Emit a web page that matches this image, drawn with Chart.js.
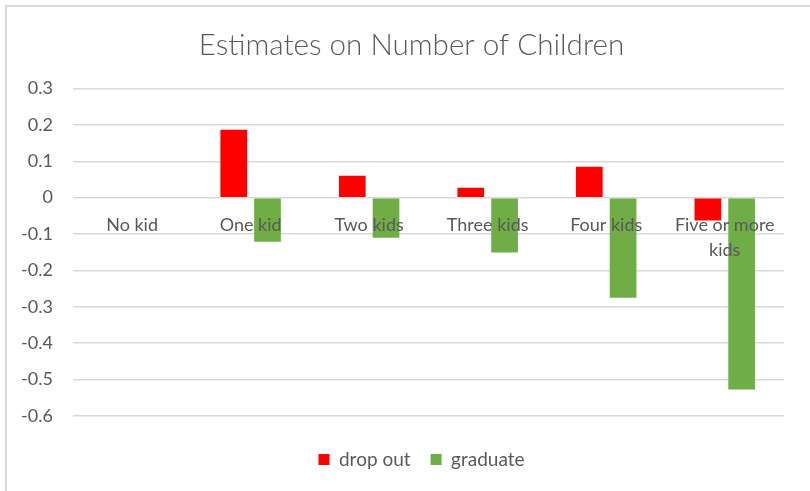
<!DOCTYPE html>
<html>
<head>
<meta charset="utf-8">
<script src="https://cdn.jsdelivr.net/npm/chart.js@4/dist/chart.umd.min.js"></script>
<style>
  body { margin: 0; background: #fff; }
  #wrap { position: relative; width: 810px; height: 491px; }
  #frame { position: absolute; left: 5px; top: 5px; right: 0; bottom: 0;
           border-left: 2px solid #d9d9d9; border-top: 2px solid #d9d9d9; pointer-events: none; }
</style>
</head>
<body>
<div id="wrap">
  <canvas id="mycanvas" width="810" height="491"></canvas>
  <div id="frame"></div>
</div>
<script>
var categories = ["No kid", "One kid", "Two kids", "Three kids", "Four kids", ["Five or more", "kids"]];
var dropOut = [0, 0.187, 0.060, 0.027, 0.085, -0.063];
var graduate = [0, -0.121, -0.110, -0.151, -0.275, -0.527];
var yMin = -0.6, yMax = 0.3, yStep = 0.1;

var textColor = "#595959";
var gridColor = "#d9d9d9";

var ctx = document.getElementById("mycanvas");

// title and legend are centred on the whole frame, not on the padded box
var nudge = {
  id: 'nudge',
  afterLayout: function(chart) {
    var t = chart.titleBlock, l = chart.legend;
    t.left += 19; t.right += 19;
    l.left += 29; l.right += 29;
  }
};

var chartdata = {
  labels: categories,
  datasets: [
    {
      label: "drop out",
      backgroundColor: "#ff0000",
      data: dropOut
    },
    {
      label: "graduate",
      backgroundColor: "#70ad47",
      data: graduate
    }
  ]
};

var BarGraph = new Chart(ctx, {
  type: 'bar',
  data: chartdata,
  plugins: [nudge],
  options: {
    responsive: false,
    animation: { duration: 0 },
    layout: { padding: { left: 1, right: 26, top: 14, bottom: 12 } },
    datasets: {
      bar: { categoryPercentage: 0.57, barPercentage: 0.79 }
    },
    plugins: {
      title: {
        display: true,
        text: "Estimates on Number of Children",
        color: textColor,
        font: { family: "Lato", size: 29.6, weight: "300" },
        padding: { top: 14, bottom: 25 }
      },
      legend: {
        position: 'bottom',
        title: {
          display: true,
          text: "",
          font: { size: 1, lineHeight: 1 },
          padding: { top: 0, bottom: 13 }
        },
        labels: {
          color: textColor,
          font: { family: "Lato", size: 19 },
          boxWidth: 11,
          boxHeight: 11,
          padding: 20
        }
      },
      tooltip: { enabled: false }
    },
    scales: {
      x: {
        position: { y: 0 },
        grid: { display: false },
        border: { display: false },
        ticks: {
          z: 1,
          color: textColor,
          font: { family: "Lato", size: 18, lineHeight: 1.4 },
          padding: 7,
          maxRotation: 0,
          autoSkip: false
        }
      },
      y: {
        min: yMin,
        max: yMax,
        grid: { color: gridColor, lineWidth: 1.5, drawTicks: false },
        border: { display: false },
        ticks: {
          stepSize: yStep,
          color: textColor,
          font: { family: "Lato", size: 18 },
          padding: 20,
          callback: function(v) {
            var r = Math.round(v * 10) / 10;
            return r === 0 ? "0" : r.toFixed(1);
          }
        }
      }
    }
  }
});
</script>
</body>
</html>
